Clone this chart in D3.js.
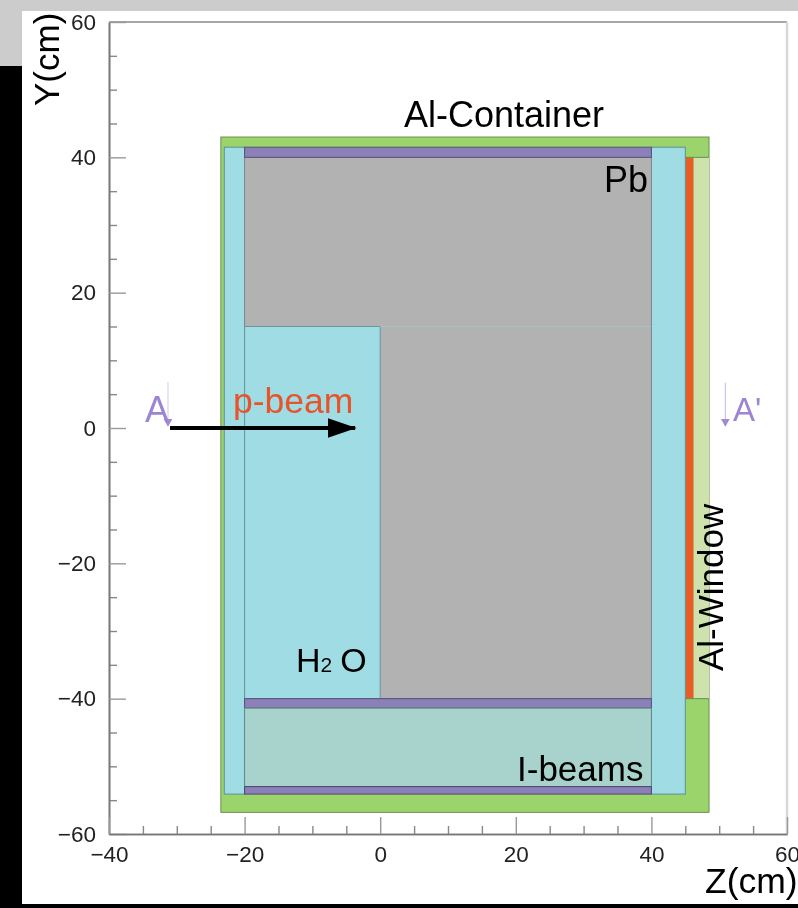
<!DOCTYPE html>
<html>
<head>
<meta charset="utf-8">
<script src="https://cdn.jsdelivr.net/npm/d3@7"></script>
<style>
  html, body { margin: 0; padding: 0; background: #fff; overflow: hidden; }
  text { font-family: "Liberation Sans", Arial, sans-serif; }
</style>
</head>
<body>
<div id="chart"></div>
<script>
'use strict'

// Detector parts, in cm, painted in this order
let partNames = ["container", "windowAl", "orange", "blueLeft", "blueRight", "pb", "h2o", "purpleTop", "purpleMid", "ibeam", "purpleLow"]
let partZ0 = [-23.5, 46.2, 45, -23, 40, -20, -20, -20, -20, -20, -20]
let partZ1 = [48.5, 48.5, 46.2, -20, 45, 40, 0, 40, 40, 40, 40]
let partY0 = [-56.8, -40, -40, -54.1, -54.1, -40, -40, 40, -41.4, -53, -54.1]
let partY1 = [43, 40, 40, 41.5, 41.5, 40, 15, 41.5, -40, -41.4, -53]
let partFill = ["#9bd46b", "#cde2ad", "#e85c28", "#a0dce4", "#a0dce4", "#b2b2b2", "#a0dce4", "#8b80b8", "#8b80b8", "#a8d2cc", "#8b80b8"]
let partEdge = ["#6a8f52", "none", "none", "#5f8f98", "#5f8f98", "#7a8a8a", "#6a959c", "#56527a", "#56527a", "#5f8a86", "#4c4670"]

// thin seams: z from, z to, y, colour
let seamZ0 = [0, 45, 45]
let seamZ1 = [40, 48.5, 48.5]
let seamY = [15, 40, -40]
let seamColour = ["#a9c0c2", "#6a8f52", "#6a8f52"]

let majorTicks = [-60, -40, -20, 0, 20, 40, 60]
let xMajor = [-40, -20, 0, 20, 40, 60]
let minorTicks = [-55, -50, -45, -35, -30, -25, -15, -10, -5, 5, 10, 15, 25, 30, 35, 45, 50, 55]
let xMinor = [-35, -30, -25, -15, -10, -5, 5, 10, 15, 25, 30, 35, 45, 50, 55]

let width = 798
let height = 908

let x = d3.scaleLinear().domain([-40, 60]).range([109, 787])
let y = d3.scaleLinear().domain([-60, 60]).range([834, 22])

let svg = d3.select("#chart").append("svg")
  .attr("width", width)
  .attr("height", height)
  .style("display", "block")

let defs = svg.append("defs")
defs.append("filter").attr("id", "soft")
  .attr("filterUnits", "userSpaceOnUse")
  .attr("x", 0).attr("y", 0)
  .attr("width", width).attr("height", height)
  .append("feGaussianBlur").attr("stdDeviation", 0.55)

defs.append("marker").attr("id", "beamHead")
  .attr("viewBox", "0 0 10 10").attr("refX", 9.5).attr("refY", 5)
  .attr("markerUnits", "userSpaceOnUse")
  .attr("markerWidth", 29).attr("markerHeight", 20)
  .attr("orient", "auto").attr("preserveAspectRatio", "none")
  .append("path").attr("d", "M0,0L10,5L0,10Z").attr("fill", "#000")

defs.append("marker").attr("id", "cutHead")
  .attr("viewBox", "0 0 10 10").attr("refX", 9).attr("refY", 5)
  .attr("markerUnits", "userSpaceOnUse")
  .attr("markerWidth", 8).attr("markerHeight", 9)
  .attr("orient", "auto").attr("preserveAspectRatio", "none")
  .append("path").attr("d", "M0,0L10,5L0,10Z").attr("fill", "#a08ad6")

// page background: grey strip, black strip
svg.append("rect").attr("width", width).attr("height", height).attr("fill", "#fff")
svg.append("rect").attr("width", width).attr("height", 11).attr("fill", "#cccccc")
svg.append("rect").attr("y", 11).attr("width", 22).attr("height", 55).attr("fill", "#cccccc")
svg.append("rect").attr("y", 66).attr("width", 22).attr("height", height - 66).attr("fill", "#000")
svg.append("rect").attr("y", 904).attr("width", width).attr("height", 4).attr("fill", "#000")

let root = svg.append("g").attr("filter", "url(#soft)")

// frame
root.append("path")
  .attr("d", "M" + x(-40) + "," + y(60) + "H" + x(60))
  .attr("stroke", "#888").attr("stroke-width", 1.5).attr("fill", "none")
root.append("path")
  .attr("d", "M" + x(60) + "," + y(60) + "V" + y(-60))
  .attr("stroke", "#d8d8d8").attr("stroke-width", 2.5).attr("fill", "none")

// parts
root.selectAll("rect.part")
  .data(partNames)
  .enter()
  .append("rect")
  .attr("class", "part")
  .attr("x", (d, i) => x(partZ0[i]))
  .attr("y", (d, i) => y(partY1[i]))
  .attr("width", (d, i) => x(partZ1[i]) - x(partZ0[i]))
  .attr("height", (d, i) => y(partY0[i]) - y(partY1[i]))
  .attr("fill", (d, i) => partFill[i])
  .attr("stroke", (d, i) => partEdge[i])
  .attr("stroke-width", 1)

root.selectAll("line.seam")
  .data(seamY)
  .enter()
  .append("line")
  .attr("class", "seam")
  .attr("x1", (d, i) => x(seamZ0[i]))
  .attr("x2", (d, i) => x(seamZ1[i]))
  .attr("y1", d => y(d))
  .attr("y2", d => y(d))
  .attr("stroke", (d, i) => seamColour[i])
  .attr("stroke-width", 1)

// axes
function styleAxis(g, colour) {
  g.select(".domain").attr("stroke", "#777").attr("stroke-width", 1.6)
  g.selectAll(".tick line").attr("stroke", colour).attr("stroke-width", 1.4)
  g.selectAll("text")
    .attr("fill", "#222")
    .style("font-size", "22.5px")
    .style("font-family", "'Liberation Sans', Arial, sans-serif")
}

let fmt = d => (d < 0 ? "\u2212" + Math.abs(d) : "" + d)

root.append("g")
  .attr("transform", "translate(" + x(-40) + ",0)")
  .call(d3.axisLeft(y).tickValues(minorTicks).tickSize(-8).tickSizeOuter(0).tickFormat(""))
  .call(styleAxis, "#888")

root.append("g")
  .attr("transform", "translate(" + x(-40) + ",0)")
  .call(d3.axisLeft(y).tickValues(majorTicks).tickSize(-17).tickSizeOuter(0).tickPadding(13).tickFormat(fmt))
  .call(styleAxis, "#999")

root.append("g")
  .attr("transform", "translate(0," + y(-60) + ")")
  .call(d3.axisBottom(x).tickValues(xMinor).tickSize(-8).tickSizeOuter(0).tickFormat(""))
  .call(styleAxis, "#888")

root.append("g")
  .attr("transform", "translate(0," + y(-60) + ")")
  .call(d3.axisBottom(x).tickValues(xMajor).tickSize(-17).tickSizeOuter(0).tickPadding(12).tickFormat(fmt))
  .call(styleAxis, "#999")

// beam and section arrows
root.append("line")
  .attr("x1", x(-31)).attr("x2", x(-3.7))
  .attr("y1", y(0)).attr("y2", y(0))
  .attr("stroke", "#000").attr("stroke-width", 4)
  .attr("marker-end", "url(#beamHead)")

root.append("line")
  .attr("x1", x(-31.3)).attr("x2", x(-31.3))
  .attr("y1", y(6.8)).attr("y2", y(0.3))
  .attr("stroke", "#d6cdec").attr("stroke-width", 1)
  .attr("marker-end", "url(#cutHead)")

root.append("line")
  .attr("x1", x(50.9)).attr("x2", x(50.9))
  .attr("y1", y(6.7)).attr("y2", y(0.3))
  .attr("stroke", "#c6b9e4").attr("stroke-width", 1)
  .attr("marker-end", "url(#cutHead)")

// labels
function label(px, py, str, size, colour, rotate) {
  let t = root.append("text")
    .attr("font-size", size)
    .attr("fill", colour)
    .text(str)
  if (rotate) {
    t.attr("transform", "translate(" + px + "," + py + ")rotate(-90)")
  } else {
    t.attr("x", px).attr("y", py)
  }
  return t
}

label(404, 127, "Al-Container", 36, "#000")
label(604, 192, "Pb", 36, "#000")
label(517, 781, "I-beams", 35, "#000")
label(233, 413, "p-beam", 35.5, "#e8532a")
label(145, 422, "A", 36, "#9c86d2")
label(733, 421, "A'", 33, "#9c86d2")
label(723, 671, "Al-Window", 35, "#000", true)
label(705, 893, "Z(cm)", 35.5, "#000")
label(59, 106, "Y(cm)", 35, "#000", true)

let water = label(296, 672, "H", 34, "#000")
water.append("tspan").attr("font-size", 21).text("2")
water.append("tspan").attr("dx", 8).text("O")
</script>
</body>
</html>
